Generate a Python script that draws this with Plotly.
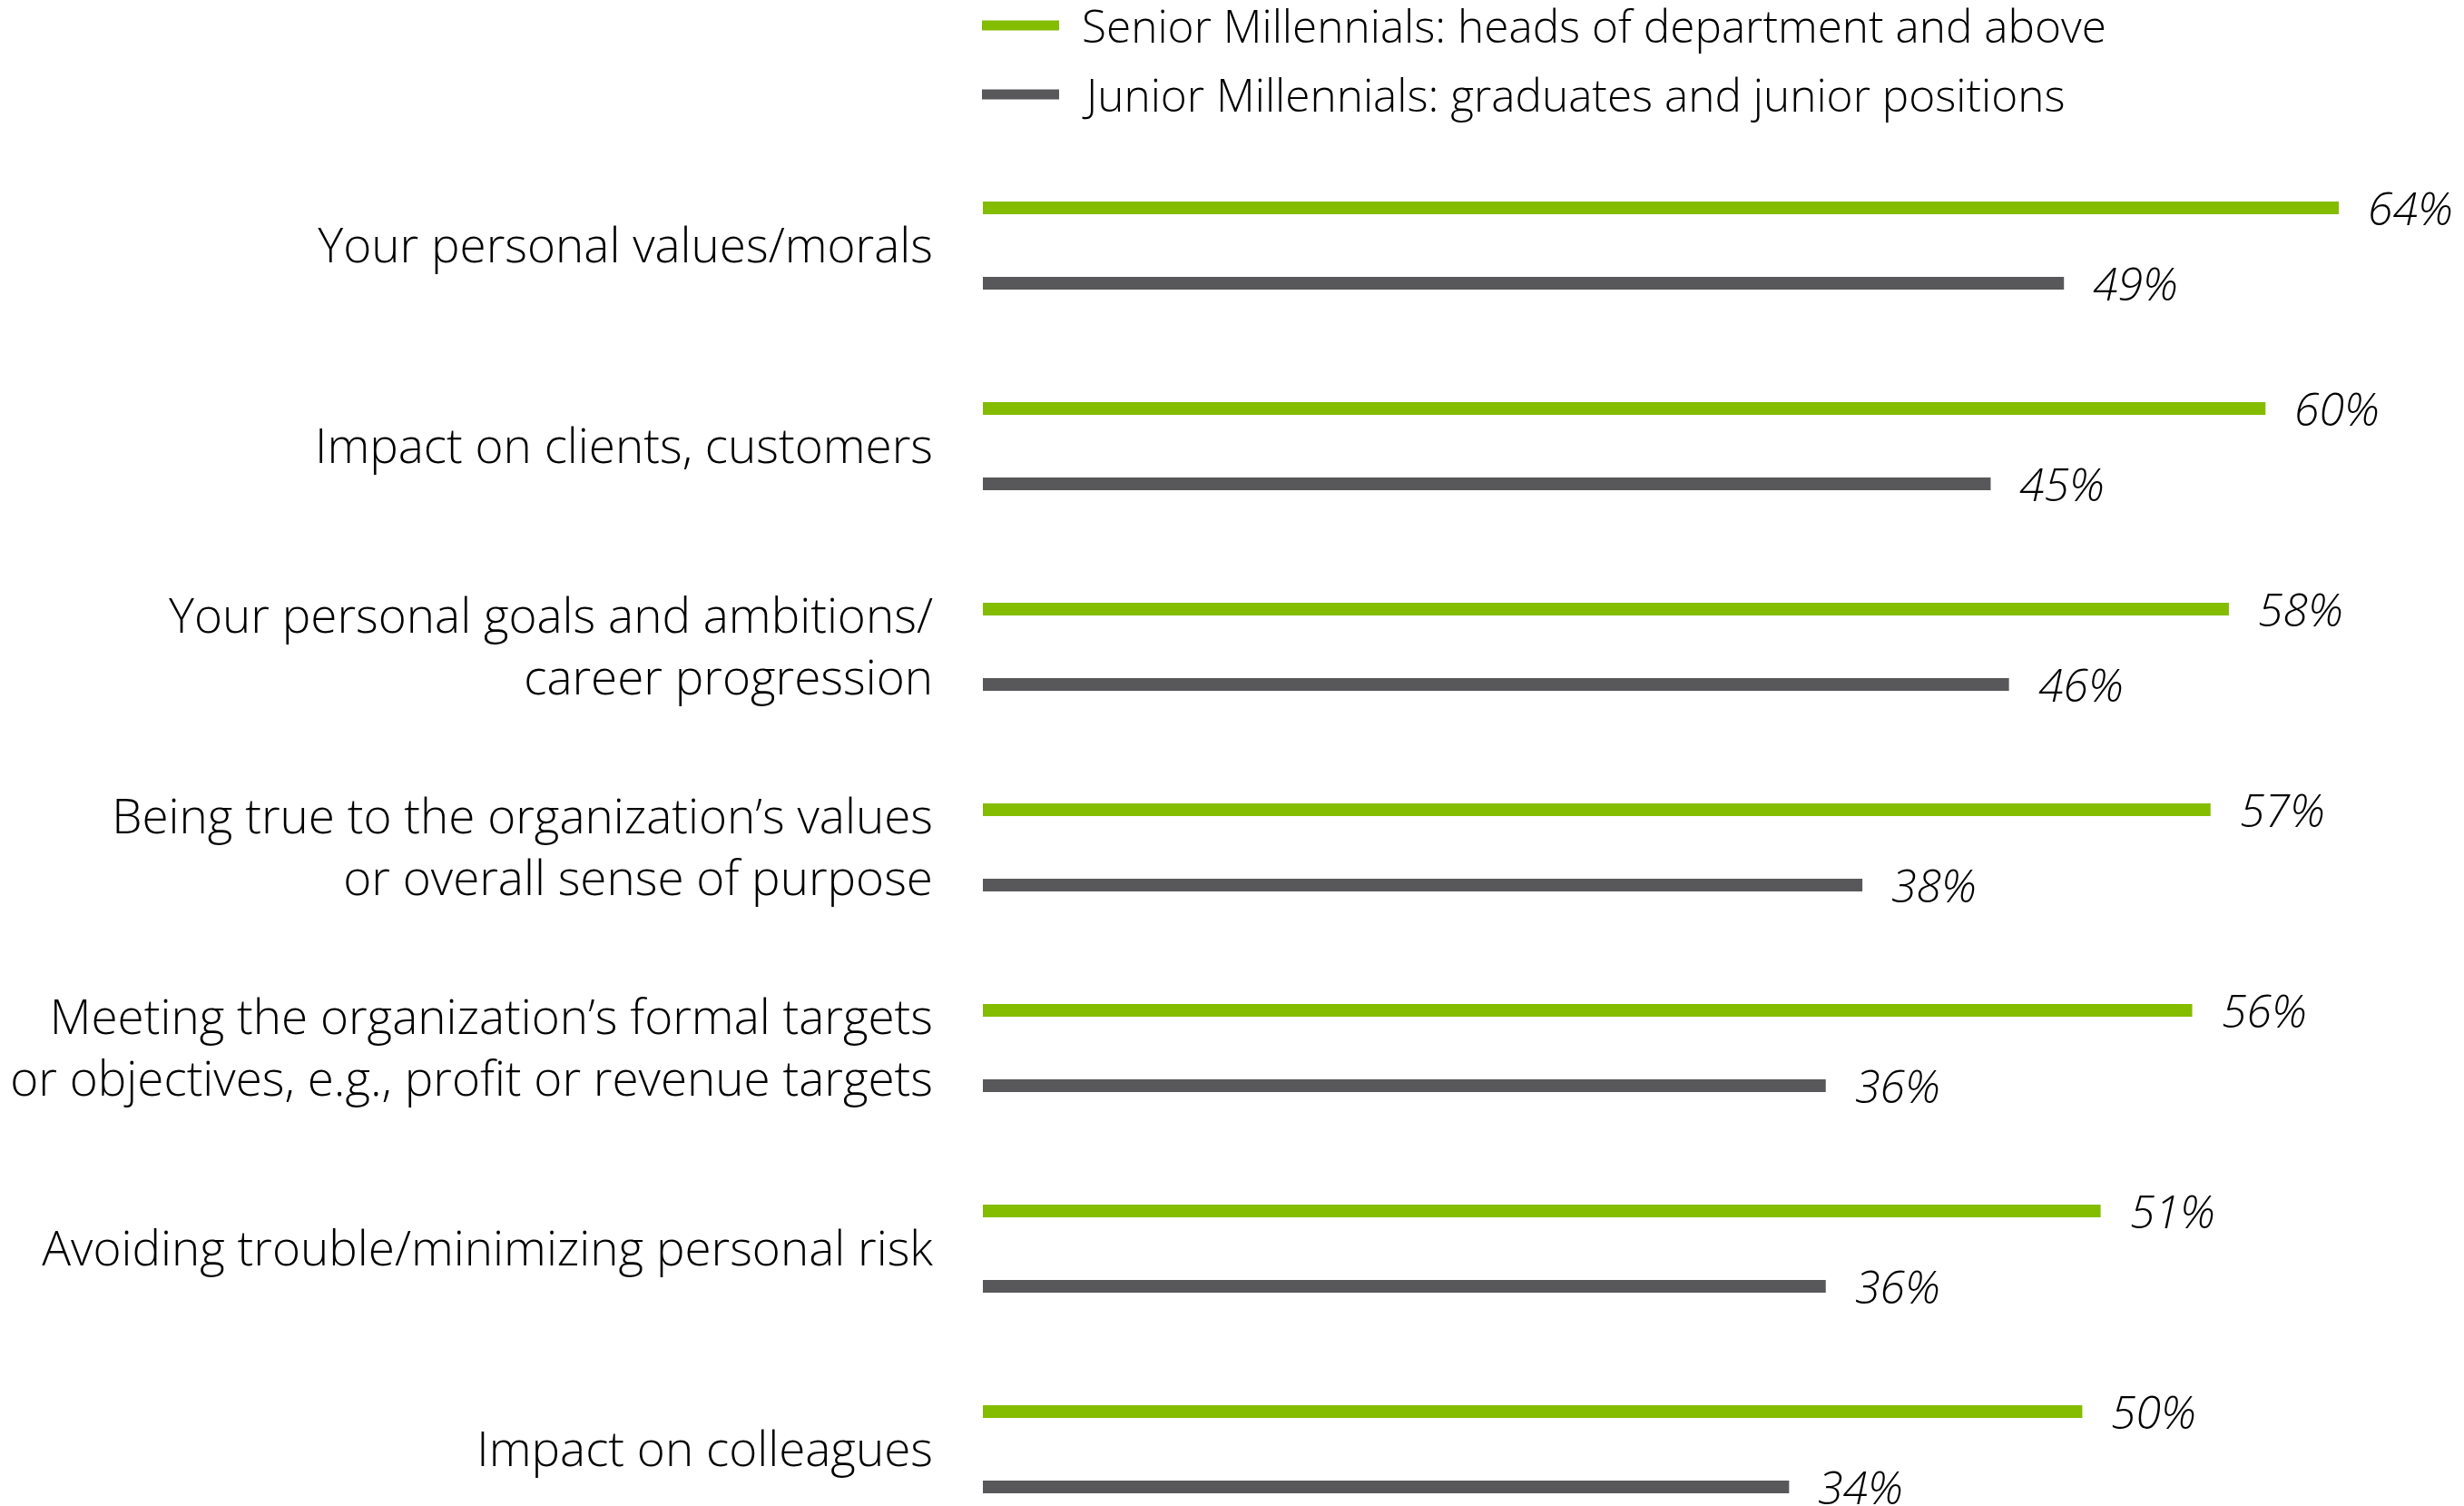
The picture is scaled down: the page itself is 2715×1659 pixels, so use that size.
import plotly.graph_objects as go

categories = [
    "Your personal values/morals",
    "Impact on clients, customers",
    "Your personal goals and ambitions/<br>career progression",
    "Being true to the organization’s values<br>or overall sense of purpose",
    "Meeting the organization’s formal targets<br>or objectives, e.g., profit or revenue targets",
    "Avoiding trouble/minimizing personal risk",
    "Impact on colleagues",
]
senior = [64, 60, 58, 57, 56, 51, 50]
junior = [49, 45, 46, 38, 36, 36, 34]
series_names = [
    "Senior Millennials: heads of department and above",
    "Junior Millennials: graduates and junior positions",
]

GREEN = "#84BC00"
GREY = "#58585A"
FONT = "Open Sans"
AXIS_START = -10  # bars are drawn from the left edge of the value axis

PAGE = 8                      # browser body margin offset
W, H = 2715 - 2 * PAGE, 1659 - PAGE
ML, MT = 1083 - PAGE, 160 - PAGE
BAND = 221.0
PX_PER_UNIT = 20.19
BAR_PX = 14
SEP_PX = 41.5

bar_w = BAR_PX / BAND
half = SEP_PX / BAND

fig = go.Figure()
for vals, color, sign, name in [(senior, GREEN, -1, series_names[0]),
                                (junior, GREY, 1, series_names[1])]:
    fig.add_trace(go.Bar(
        y=categories,
        x=[v - AXIS_START for v in vals],
        base=AXIS_START,
        orientation="h",
        width=bar_w,
        offset=sign * half - bar_w / 2,
        marker=dict(color=color, line=dict(width=0)),
        name=name,
        showlegend=False,
        hoverinfo="skip",
    ))
    for c, v in zip(categories, vals):
        fig.add_annotation(
            x=v, y=c, xref="x", yref="y",
            text=f"{v}%", showarrow=False,
            xanchor="left", yanchor="middle",
            xshift=30, yshift=-sign * SEP_PX,
            font=dict(family=FONT, size=50, color="#000000", style="italic", weight=300),
        )

plot_w = W - ML
plot_h = H - MT
def px_x(p):
    return (p - PAGE - ML) / plot_w
def px_y(p):
    return 1 - (p - PAGE - MT) / plot_h

for i, (name, color) in enumerate(zip(series_names, [GREEN, GREY])):
    yc = 28 + i * 76
    fig.add_shape(type="line", xref="paper", yref="paper",
                  x0=px_x(1082), x1=px_x(1167), y0=px_y(yc), y1=px_y(yc),
                  line=dict(color=color, width=11))
    fig.add_annotation(x=px_x(1190), y=px_y(yc), xref="paper", yref="paper",
                       text=name, showarrow=False, xanchor="left", yanchor="middle",
                       font=dict(family=FONT, size=49.5, color="#000000", weight=300))

bottom_idx = (H - MT) / BAND - 0.5
fig.update_layout(
    width=W, height=H,
    margin=dict(l=ML, r=0, t=MT, b=0, autoexpand=False),
    paper_bgcolor="white", plot_bgcolor="white",
    barmode="overlay",
    showlegend=False,
    xaxis=dict(range=[AXIS_START, AXIS_START + plot_w / PX_PER_UNIT],
               visible=False, fixedrange=True),
    yaxis=dict(range=[bottom_idx, -0.5], type="category",
               showgrid=False, zeroline=False, showline=False, ticks="",
               ticklabelstandoff=54, automargin=False,
               tickfont=dict(family=FONT, size=53, color="#000000", weight=300)),
)
fig.write_html("out.html")
